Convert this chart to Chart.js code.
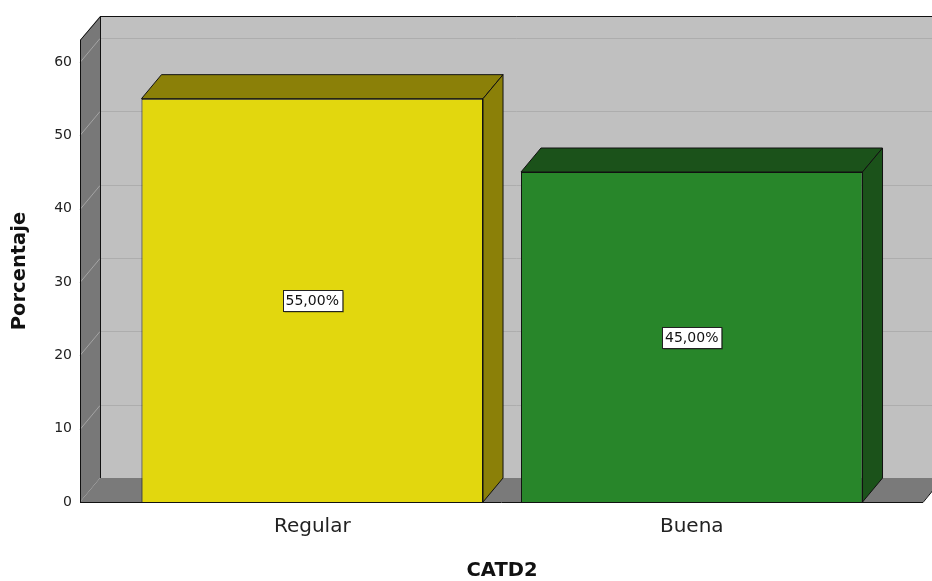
<!DOCTYPE html>
<html>
<head>
<meta charset="utf-8">
<script src="https://cdn.jsdelivr.net/npm/chart.js@4/dist/chart.umd.min.js"></script>
<style>
	body { margin: 0; background: #fff; }
</style>
</head>
<body>
<canvas id="myChart" width="932" height="581"></canvas>
<script>
// chart data
var categories = ['Regular', 'Buena'];
var percentages = [55, 45];
var yTickValues = [0, 10, 20, 30, 40, 50, 60];
var yMax = 63;

// look
var FONT = '"DejaVu Sans", "Liberation Sans", Arial, sans-serif';
var frontColors = ['#e2d70e', '#28862a'];
var sideColors = ['#8b8008', '#1b521a'];
var DX = 20, DY = 24;      // 3d depth offset
var WALL_LEFT = 42.5, WALL_RIGHT = 41.5;

function poly(ctx, pts, fill, stroke) {
	ctx.beginPath();
	ctx.moveTo(pts[0][0], pts[0][1]);
	for (var i = 1; i < pts.length; i++) ctx.lineTo(pts[i][0], pts[i][1]);
	ctx.closePath();
	if (fill) { ctx.fillStyle = fill; ctx.fill(); }
	if (stroke) { ctx.strokeStyle = stroke; ctx.lineWidth = 1; ctx.stroke(); }
}

var box3d = {
	id: 'box3d',
	beforeDatasetsDraw: function(chart) {
		var ctx = chart.ctx;
		var a = chart.chartArea;
		var y = chart.scales.y;
		var L = a.left - WALL_LEFT, R = a.right + WALL_RIGHT;
		var T = a.top, B = a.bottom;
		ctx.save();
		// back wall
		poly(ctx, [[L + DX, T - DY], [R + DX, T - DY], [R + DX, B - DY], [L + DX, B - DY]], '#c0c0c0');
		// left wall
		poly(ctx, [[L, T], [L + DX, T - DY], [L + DX, B - DY], [L, B]], '#787878');
		// floor
		poly(ctx, [[L, B], [L + DX, B - DY], [R + DX, B - DY], [R, B]], '#7a7a7a');
		// grid lines
		ctx.lineWidth = 1;
		yTickValues.forEach(function(v) {
			if (v === 0) return;
			var py = Math.round(y.getPixelForValue(v)) + 0.5;
			ctx.strokeStyle = '#adadad';
			ctx.beginPath();
			ctx.moveTo(L + DX, py - DY);
			ctx.lineTo(R + DX, py - DY);
			ctx.stroke();
			ctx.strokeStyle = '#a4a4a4';
			ctx.beginPath();
			ctx.moveTo(L, py);
			ctx.lineTo(L + DX, py - DY);
			ctx.stroke();
		});
		// edges
		ctx.strokeStyle = '#111';
		ctx.beginPath();
		ctx.moveTo(L + 0.5, B);
		ctx.lineTo(L + 0.5, T);
		ctx.lineTo(L + DX + 0.5, T - DY + 0.5);
		ctx.lineTo(R + DX, T - DY + 0.5);
		ctx.moveTo(L + DX + 0.5, T - DY);
		ctx.lineTo(L + DX + 0.5, B - DY);
		ctx.moveTo(L, B + 0.5);
		ctx.lineTo(R, B + 0.5);
		ctx.lineTo(R + DX, B - DY);
		ctx.stroke();
		ctx.restore();
	},
	afterDatasetsDraw: function(chart) {
		var ctx = chart.ctx;
		var meta = chart.getDatasetMeta(0);
		ctx.save();
		meta.data.forEach(function(bar, i) {
			var p = bar.getProps(['x', 'y', 'base', 'width'], true);
			var l = p.x - p.width / 2, r = p.x + p.width / 2;
			// top face
			poly(ctx, [[l, p.y], [l + DX, p.y - DY], [r + DX, p.y - DY], [r, p.y]], sideColors[i], '#111');
			// side face
			poly(ctx, [[r, p.y], [r + DX, p.y - DY], [r + DX, p.base - DY], [r, p.base]], sideColors[i], '#111');
		});
		// value labels
		ctx.font = '14px ' + FONT;
		ctx.textAlign = 'center';
		ctx.textBaseline = 'middle';
		meta.data.forEach(function(bar, i) {
			var p = bar.getProps(['x', 'y', 'base'], true);
			var txt = percentages[i].toFixed(2).replace('.', ',') + '%';
			var cy = (p.y + p.base) / 2;
			var w = ctx.measureText(txt).width + 6, h = 21;
			var bx = Math.round(p.x - w / 2) + 0.5, by = Math.round(cy - h / 2) + 0.5;
			ctx.fillStyle = 'rgba(0,0,0,0.35)';
			ctx.fillRect(bx + 1, by + 1, w, h);
			ctx.fillStyle = '#fff';
			ctx.fillRect(bx, by, w, h);
			ctx.strokeStyle = '#222';
			ctx.lineWidth = 1;
			ctx.strokeRect(bx, by, w, h);
			ctx.fillStyle = '#111';
			ctx.fillText(txt, p.x, cy + 1);
		});
		ctx.restore();
	}
};

var ctx = document.getElementById('myChart').getContext('2d');
var myChart = new Chart(ctx, {
	type: 'bar',
	data: {
		labels: categories,
		datasets: [{
			label: 'Porcentaje',
			data: percentages,
			backgroundColor: frontColors,
			borderColor: '#111',
			borderWidth: 1,
			categoryPercentage: 1,
			barPercentage: 0.9
		}]
	},
	options: {
		responsive: false,
		animation: false,
		layout: {
			padding: { left: 0, right: 50.5, top: 40, bottom: 0 }
		},
		plugins: {
			legend: { display: false },
			tooltip: { enabled: false }
		},
		scales: {
			x: {
				grid: { display: false, drawTicks: false },
				border: { display: false },
				ticks: {
					padding: 13,
					color: '#222',
					font: { family: FONT, size: 20 }
				},
				title: {
					display: true,
					text: 'CATD2',
					color: '#111',
					padding: { top: 0, bottom: 0 },
					font: { family: FONT, size: 19.5, weight: 'bold', lineHeight: 1 }
				},
				afterFit: function(scale) {
					scale.height = 79;
					scale.paddingLeft = 0;
					scale.paddingRight = 0;
				}
			},
			y: {
				min: 0,
				max: yMax,
				grid: { display: false, drawTicks: false },
				border: { display: false },
				afterBuildTicks: function(scale) {
					scale.ticks = yTickValues.map(function(v) { return { value: v }; });
				},
				ticks: {
					padding: 50.5,
					color: '#222',
					font: { family: FONT, size: 14 }
				},
				title: {
					display: true,
					text: 'Porcentaje',
					color: '#111',
					padding: { top: 10, bottom: 0 },
					font: { family: FONT, size: 19.5, weight: 'bold', lineHeight: 1 }
				},
				afterFit: function(scale) {
					scale.width = 122.5;
					scale.paddingTop = 0;
					scale.paddingBottom = 0;
				}
			}
		}
	},
	plugins: [box3d]
});
</script>
</body>
</html>
